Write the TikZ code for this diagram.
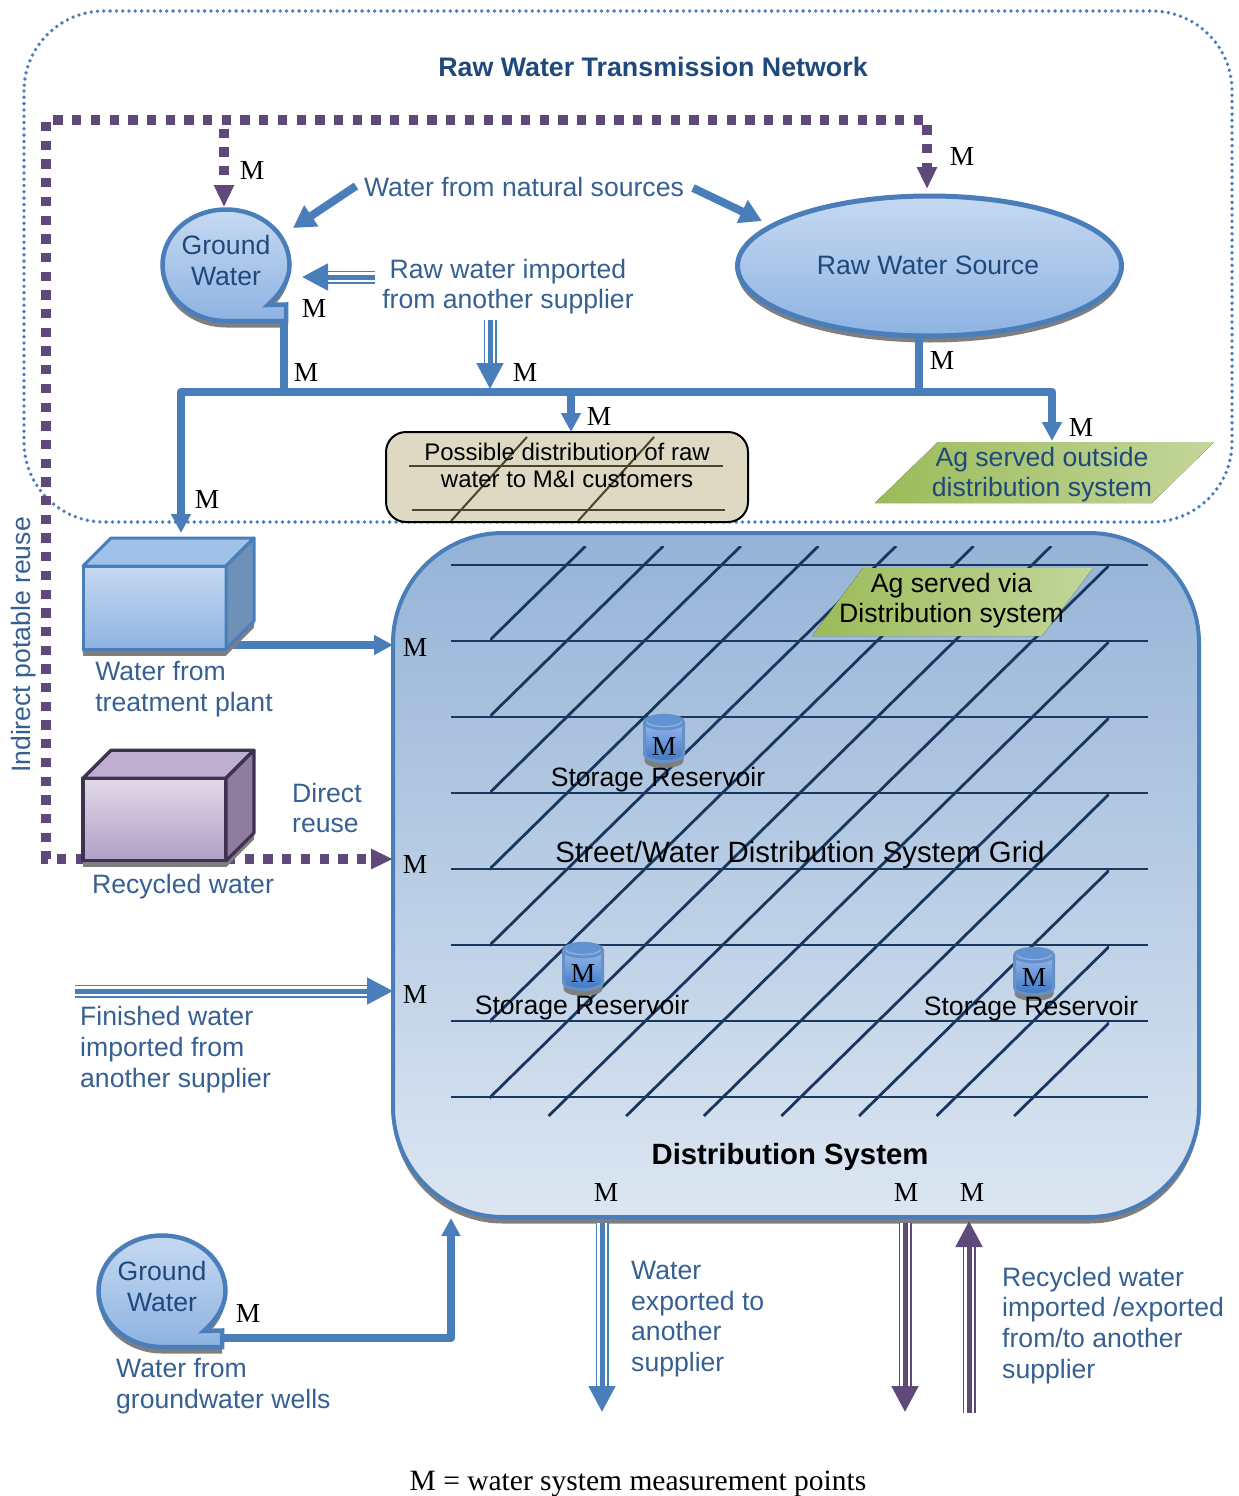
\documentclass[tikz,border=0pt]{standalone}
\usepackage{fontspec}
\setmainfont{Liberation Sans}
\newfontfamily\mfont{Liberation Serif}
\usetikzlibrary{shapes,arrows.meta,shadows}

\definecolor{pipeblue}{HTML}{4A7EBB}
\definecolor{labelblue}{HTML}{366092}
\definecolor{darkblue}{HTML}{1F497D}
\definecolor{gridblue}{HTML}{17375E}
\definecolor{dotpurple}{HTML}{5F497A}
\definecolor{shadowgray}{HTML}{7F7F7F}
\definecolor{boxtan}{HTML}{DDD9C3}
\definecolor{boxline}{HTML}{4A452A}
\definecolor{gwtop}{HTML}{C6D9F1}
\definecolor{gwbot}{HTML}{8DB3E2}
\definecolor{restop}{HTML}{A4C2F4}
\definecolor{resbot}{HTML}{3F77C4}
\definecolor{resend}{HTML}{5F93D3}
\definecolor{recyedge}{HTML}{3F3151}
\definecolor{agleft}{HTML}{9BBB59}
\definecolor{agright}{HTML}{C3D69B}
\definecolor{disttop}{HTML}{95B3D7}
\definecolor{distbot}{HTML}{DCE6F2}
\definecolor{planttopf}{HTML}{A0C1E8}
\definecolor{plantside}{HTML}{6F91B8}
\definecolor{recytop}{HTML}{E1D9E8}
\definecolor{recybot}{HTML}{AF9FC5}
\definecolor{recytopf}{HTML}{BFB0D2}
\definecolor{recyside}{HTML}{8F7DA0}

\tikzset{
  castshadow/.style={general shadow={fill=shadowgray,shadow xshift=0pt,shadow yshift=-6.5pt}},
  lbl/.style={text=labelblue,font=\fontsize{26.6}{30.8}\selectfont,align=left,inner sep=0pt},
  shapetext/.style={text=darkblue,font=\fontsize{26.6}{31}\selectfont,align=center,inner sep=0pt},
  blacktext/.style={text=black,font=\fontsize{24}{31}\selectfont,align=center,inner sep=0pt},
  mlabel/.style={text=black,font=\mfont\fontsize{27.5}{27.5}\selectfont,inner sep=0pt},
  pipe/.style={draw=pipeblue,line width=8.5pt,line join=round},
  pipetip/.style={pipe,-{Triangle[length=19pt,width=19pt]}},
  bold arrow/.style={draw=pipeblue,line width=8pt,-{Triangle[length=22pt,width=24pt]}},
  dotline/.style={draw=dotpurple,line width=9.3pt,dash pattern=on 9.3pt off 9.4pt},
  dottip/.style={dotline,-{Triangle[length=22pt,width=19pt]}},
  tripleouter/.style={draw=#1,line width=1.8pt,double=white,double distance=9.4pt,shorten >=24pt},
  triplecore/.style={draw=#1,line width=5pt,-{Triangle[length=26pt,width=26pt]}},
  gwbody/.style={draw=pipeblue,line width=4.5pt,top color=gwtop,bottom color=gwbot,castshadow},
  resv/.style={cylinder,shape border rotate=90,aspect=0.55,draw=pipeblue!85!white,line width=3pt,
    minimum width=39pt,minimum height=46pt,inner sep=0pt,top color=restop,bottom color=resbot,
    castshadow,font=\mfont\fontsize{27.5}{27.5}\selectfont},
  street/.style={draw=gridblue,line width=2.8pt},
  faceblue/.style={draw=pipeblue,line width=3pt,line join=round},
  facepurple/.style={draw=recyedge,line width=3.2pt,line join=round}
}

\newcommand{\groundwater}[3]{
  \begin{scope}[shift={(#2,#3)}]
    \path[gwbody] (42,40) .. controls (55,28) and (63.5,15) .. (63.5,0)
      .. controls (63.5,-31) and (35,-55.5) .. (0,-55.5)
      .. controls (-35,-55.5) and (-63.5,-31) .. (-63.5,0)
      .. controls (-63.5,31) and (-35,56) .. (0,56)
      -- (60,56) -- (60,39.5) -- cycle;
    \node[shapetext] (#1) at (0,-4.5) {Ground\\Water};
  \end{scope}
}

\begin{document}
\begin{tikzpicture}[x=1pt,y=-1pt]
  \useasboundingbox (0,0) rectangle (1239,1496);

  \draw[pipeblue,line width=3.8pt,line cap=round,dash pattern=on 0pt off 6.3pt,rounded corners=80pt]
    (24,11) rectangle (1232,522);
  \node[text=darkblue,font=\bfseries\fontsize{26.8}{30}\selectfont,inner sep=0pt] (title) at (653,67) {Raw Water Transmission Network};

  \coordinate (recl) at (85,859);
  \coordinate (recr) at (226,859);
  \coordinate (dotb) at (46,859);
  \coordinate (dott) at (46,120);
  \coordinate (dotr) at (927,120);
  \coordinate (dotg) at (224,128.5);
  \coordinate (srcin) at (927,189);
  \coordinate (gwin) at (224,207);
  \coordinate (dirin) at (393,859);
  \draw[dottip] (recl) -- (dotb) -- (dott) -- (dotr) -- (srcin);
  \draw[dottip] (dotg) -- (gwin);
  \draw[dottip] (recr) -- (dirin);

  \node[ellipse,draw=pipeblue,line width=5pt,top color=gwtop,bottom color=gwbot,castshadow,
    minimum width=384pt,minimum height=140pt,inner sep=0pt,outer sep=0pt] (src) at (929.5,266) {};
  \node[shapetext] (srctext) at (928,265) {Raw Water Source};
  \groundwater{gw1}{226}{265}
  \groundwater{gw2}{162}{1291}

  \node[lbl] (natural) at (524,187) {Water from natural sources};
  \node[lbl,align=center,font=\fontsize{26.6}{30}\selectfont] (rawimp) at (508,286.5) {Raw water imported\\from another supplier};
  \coordinate (nat1) at (356,186);
  \coordinate (natgw) at (293,228);
  \coordinate (nat2) at (693,188);
  \coordinate (natsrc) at (762,221);
  \draw[bold arrow] (nat1) -- (natgw);
  \draw[bold arrow] (nat2) -- (natsrc);

  \coordinate (imph) at (375,277);
  \coordinate (imphtip) at (302,277);
  \coordinate (impv) at (490,320);
  \coordinate (impvtip) at (490,389);
  \draw[tripleouter=pipeblue] (imph) -- (imphtip);
  \draw[triplecore=pipeblue] (imph) -- (imphtip);
  \draw[tripleouter=pipeblue] (impv) -- (impvtip);
  \draw[triplecore=pipeblue] (impv) -- (impvtip);

  \node[draw=black,fill=boxtan,line width=2pt,rounded corners=20pt,minimum width=362pt,minimum height=90pt,inner sep=0pt] (poss) at (567,477) {};
  \draw[boxline,line width=2pt] (409,466) -- (723,466);
  \draw[boxline,line width=2.2pt] (412,510) -- (725,510);
  \draw[boxline,line width=2pt] (451,521) -- (527,437);
  \draw[boxline,line width=2pt] (578,521) -- (654,437);
  \node[blacktext,font=\fontsize{24}{27}\selectfont] (posstext) at (567,465.5) {Possible distribution of raw\\water to M\&I customers};

  \fill[left color=agleft,right color=agright] (875,503) -- (938,442) -- (1214,442) -- (1152,503) -- cycle;
  \node[text=labelblue,shapetext,font=\fontsize{26.6}{30}\selectfont] (agout) at (1042,474.5) {Ag served outside\\distribution system};

  \coordinate (busl) at (181,392);
  \coordinate (busr) at (1052,392);
  \coordinate (plantin) at (181,533);
  \coordinate (agin) at (1052,441);
  \coordinate (gwout) at (284,322);
  \coordinate (srcout) at (919,338);
  \coordinate (possin) at (571,432);
  \draw[pipe,{Triangle[length=19pt,width=19pt]}-{Triangle[length=19pt,width=19pt]}] (plantin) -- (busl) -- (busr) -- (agin);
  \draw[pipe] (gwout) -- (gwout |- busl);
  \draw[pipe] (srcout) -- (srcout |- busl);
  \draw[pipetip] (possin |- busl) -- (possin);

  \node[rectangle,draw=pipeblue,line width=4pt,rounded corners=110pt,top color=disttop,bottom color=distbot,castshadow,
    minimum width=806pt,minimum height=684pt,inner sep=0pt,outer sep=0pt] (dist) at (796,875) {};
  \foreach \y in {565,641,717,793,869,945,1021,1097}
    \draw[street] (451,\y) -- (1148,\y);
  \begin{scope}
    \clip (490,546) rectangle (1109,1116);
    \foreach \c in {5.4,83,160.6,238.2,315.8,393.4,471,548.6,626.2,703.8,781.4,859,936.6,1014.2}
      \draw[street] (\c,1116) -- (\c+580.3,546);
  \end{scope}

  \fill[left color=agleft,right color=agright] (812,636) -- (863,568) -- (1093,568) -- (1042,636) -- cycle;
  \node[blacktext,font=\fontsize{26.6}{30.5}\selectfont] (agvia) at (951.5,600.5) {Ag served via\\Distribution system};

  \node[lbl,font=\fontsize{29.4}{30}\selectfont,text=black] (grid) at (800,855) {Street/Water Distribution System Grid};
  \node[text=black,font=\bfseries\fontsize{29.3}{30}\selectfont,inner sep=0pt] (disttitle) at (790,1157) {Distribution System};

  \node[resv] (res1) at (664,742.5) {\phantom{M}};
  \fill[resend] ([yshift=-7pt]res1.north) ellipse [x radius=17,y radius=5];
  \node[resv] (res2) at (583,970.5) {\phantom{M}};
  \fill[resend] ([yshift=-7pt]res2.north) ellipse [x radius=17,y radius=5];
  \node[resv] (res3) at (1034,975.5) {\phantom{M}};
  \fill[resend] ([yshift=-7pt]res3.north) ellipse [x radius=17,y radius=5];
  \node[blacktext,font=\fontsize{26.6}{30}\selectfont] (sr1) at (658,780) {Storage Reservoir};
  \node[blacktext,font=\fontsize{26.6}{30}\selectfont] (sr2) at (582,1008) {Storage Reservoir};
  \node[blacktext,font=\fontsize{26.6}{30}\selectfont] (sr3) at (1031,1009) {Storage Reservoir};

  \coordinate (plantout) at (226,645);
  \draw[pipe,-{Triangle[length=19pt,width=19pt]}] (plantout) -- (plantout -| dist.west);

  \node[draw=pipeblue,line width=3pt,top color=gwtop,bottom color=gwbot,castshadow,minimum width=143pt,minimum height=83pt,inner sep=0pt,outer sep=0pt] (plant) at (154.5,607.5) {};
  \path[faceblue,fill=planttopf] (plant.north west) -- ++(28,-28) -- ++(143,0) -- (plant.north east) -- cycle;
  \path[faceblue,fill=plantside,castshadow] (plant.north east) -- ++(28,-28) -- ++(0,83) -- (plant.south east) -- cycle;
  \node[lbl] (planttext) at (184,689.5) {Water from\\treatment plant};

  \node[draw=recyedge,line width=3.2pt,top color=recytop,bottom color=recybot,castshadow,minimum width=143pt,minimum height=82.5pt,inner sep=0pt,outer sep=0pt] (recyc) at (154.5,819.5) {};
  \path[facepurple,fill=recytopf] (recyc.north west) -- ++(28,-28) -- ++(143,0) -- (recyc.north east) -- cycle;
  \path[facepurple,fill=recyside,castshadow] (recyc.north east) -- ++(28,-28) -- ++(0,82.5) -- (recyc.south east) -- cycle;
  \node[lbl] (recyctext) at (183,887) {Recycled water};
  \node[lbl,anchor=west] (direct) at (292,808) {Direct\\reuse};
  \node[lbl,rotate=90] (indirect) at (24,645) {Indirect potable reuse};

  \coordinate (fin) at (75,991);
  \coordinate (fintip) at (fin -| dist.west);
  \draw[tripleouter=pipeblue] (fin) -- (fintip);
  \draw[triplecore=pipeblue] (fin) -- (fintip);
  \node[lbl,anchor=west] (fintext) at (80,1049.5) {Finished water\\imported from\\another supplier};

  \coordinate (gw2out) at (223,1338);
  \coordinate (gw2up) at (451,1338);
  \coordinate (gw2tip) at (451,1218);
  \draw[pipe,-{Triangle[length=18pt,width=18pt]}] (gw2out) -- (gw2up) -- (gw2tip);
  \node[lbl,anchor=west] (gw2text) at (116,1386.5) {Water from\\groundwater wells};

  \coordinate (exp) at (602,1223);
  \coordinate (exptip) at (602,1412);
  \draw[tripleouter=pipeblue] (exp) -- (exptip);
  \draw[triplecore=pipeblue] (exp) -- (exptip);
  \node[lbl,anchor=west] (exptext) at (631,1319) {Water\\exported to\\another\\supplier};

  \coordinate (rexp) at (905,1223);
  \coordinate (rexptip) at (905,1412);
  \draw[tripleouter=dotpurple] (rexp) -- (rexptip);
  \draw[triplecore=dotpurple] (rexp) -- (rexptip);
  \coordinate (rimp) at (969,1413);
  \coordinate (rimptip) at (969,1221);
  \draw[tripleouter=dotpurple] (rimp) -- (rimptip);
  \draw[triplecore=dotpurple] (rimp) -- (rimptip);
  \node[lbl,anchor=west] (rimptext) at (1002,1325.5) {Recycled water\\imported /exported\\from/to another\\supplier};

  \node[mlabel] (m1) at (252,170) {M};
  \node[mlabel] (m2) at (962,156) {M};
  \node[mlabel] (m3) at (314,308) {M};
  \node[mlabel] (m4) at (306,372) {M};
  \node[mlabel] (m5) at (525,372) {M};
  \node[mlabel] (m6) at (599,416) {M};
  \node[mlabel] (m7) at (942,360) {M};
  \node[mlabel] (m8) at (1081,427) {M};
  \node[mlabel] (m9) at (207,499) {M};
  \node[mlabel] (m10) at (415,647) {M};
  \node[mlabel] (m11) at (415,864) {M};
  \node[mlabel] (m12) at (415,994) {M};
  \node[mlabel] (m13) at (606,1192) {M};
  \node[mlabel] (m14) at (906,1192) {M};
  \node[mlabel] (m15) at (972,1192) {M};
  \node[mlabel] (m16) at (248,1313) {M};
  \node[mlabel] (m17) at (664,746) {M};
  \node[mlabel] (m18) at (583,973) {M};
  \node[mlabel] (m19) at (1034,977) {M};

  \node[mlabel,font=\mfont\fontsize{29.5}{30}\selectfont] (note) at (638,1484) {M = water system measurement points};
\end{tikzpicture}
\end{document}
